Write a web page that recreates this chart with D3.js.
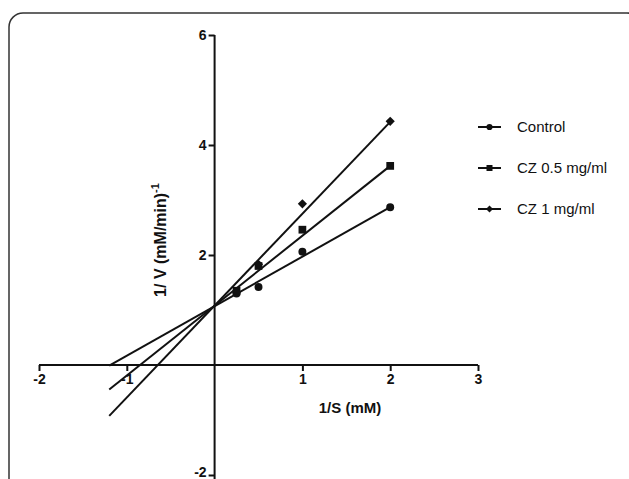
<!DOCTYPE html>
<html>
<head>
<meta charset="utf-8">
<script src="https://cdn.jsdelivr.net/npm/d3@7"></script>
<style>
  body { margin: 0; background: #fff; }
  svg { display: block; font-family: "Liberation Sans", Arial, sans-serif; }
  .tick text { font-weight: bold; font-size: 14px; fill: #111; }
</style>
</head>
<body>
<svg width="629" height="479"></svg>
<script>
// Lineweaver-Burk plot: 1/S vs 1/V for three conditions
const seriesNames = ['Control', 'CZ 0.5 mg/ml', 'CZ 1 mg/ml'];
const invS = [0.25, 0.5, 1, 2];
const controlValues = [1.30, 1.42, 2.06, 2.87];
const cz05Values = [1.35, 1.80, 2.46, 3.62];
const cz1Values = [1.33, 1.83, 2.93, 4.43];
// fitted lines
const fitSlopes = [0.90, 1.27, 1.67];
const fitIntercepts = [1.07, 1.08, 1.08];
const fitRange = [-1.2, 2];
const xTicks = [-2, -1, 1, 2, 3];
const yTicks = [-2, 2, 4, 6];

const svg = d3.select('svg');

// rounded frame round the figure
svg.append('rect')
  .attr('x', 9).attr('y', 13)
  .attr('width', 632).attr('height', 500)
  .attr('rx', 14)
  .attr('fill', 'none')
  .attr('stroke', '#333')
  .attr('stroke-width', 1.5);

const x = d3.scaleLinear().domain([-2, 3]).range([39, 478]);
const y = d3.scaleLinear().domain([-2, 6]).range([475, 35]);

const xAxis = svg.append('g')
  .attr('transform', `translate(0,${y(0)})`)
  .call(d3.axisBottom(x).tickValues(xTicks).tickFormat(d => String(d)).tickSize(6).tickPadding(3));
const yAxis = svg.append('g')
  .attr('transform', `translate(${x(0)},0)`)
  .call(d3.axisLeft(y).tickValues(yTicks).tickFormat(d => String(d)).tickSize(6).tickPadding(2));

[xAxis, yAxis].forEach(g => {
  g.select('.domain').attr('stroke', '#111').attr('stroke-width', 2);
  g.selectAll('.tick line').attr('stroke', '#111').attr('stroke-width', 2);
});
// plain axis lines, no outer ticks
xAxis.select('.domain').attr('d', `M${x(-2)},0H${x(3)}`);
yAxis.select('.domain').attr('d', `M0,${y(-2) + 5}V${y(6)}`);
yAxis.selectAll('.tick text').filter(d => d === -2).attr('dy', '0.1em');

svg.append('text')
  .attr('x', 350).attr('y', 413)
  .attr('text-anchor', 'middle')
  .attr('font-weight', 'bold').attr('font-size', 15)
  .attr('fill', '#111')
  .text('1/S (mM)');

const yLabel = svg.append('text')
  .attr('transform', 'translate(166,240) rotate(-90)')
  .attr('text-anchor', 'middle')
  .attr('font-weight', 'bold').attr('font-size', 16)
  .attr('fill', '#111');
yLabel.append('tspan').text('1/ V (mM/min)');
yLabel.append('tspan').attr('dy', -7).attr('font-size', 11).text('-1');

const allValues = [controlValues, cz05Values, cz1Values];
const symbols = [d3.symbolCircle, d3.symbolSquare, d3.symbolSquare];
const symbolSizes = [50, 60, 42];
const symbolRotate = [0, 0, 45];

// fit lines
const line = d3.line().x(d => x(d[0])).y(d => y(d[1]));
seriesNames.forEach((name, i) => {
  const pts = fitRange.map(v => [v, fitIntercepts[i] + fitSlopes[i] * v]);
  svg.append('path')
    .attr('d', line(pts))
    .attr('fill', 'none')
    .attr('stroke', '#111')
    .attr('stroke-width', 2);
});

// data points
seriesNames.forEach((name, i) => {
  svg.append('g').selectAll('path')
    .data(invS.map((v, j) => [v, allValues[i][j]]))
    .join('path')
    .attr('transform', d => `translate(${x(d[0])},${y(d[1])}) rotate(${symbolRotate[i]})`)
    .attr('d', d3.symbol(symbols[i], symbolSizes[i]))
    .attr('fill', '#111');
});

// legend
const legend = svg.append('g').attr('transform', 'translate(478,127)');
seriesNames.forEach((name, i) => {
  const row = legend.append('g').attr('transform', `translate(0,${i * 41})`);
  row.append('line')
    .attr('x1', 0).attr('x2', 23)
    .attr('stroke', '#111').attr('stroke-width', 2);
  row.append('path')
    .attr('transform', `translate(11.5,0) rotate(${symbolRotate[i]})`)
    .attr('d', d3.symbol(symbols[i], symbolSizes[i] * 0.6))
    .attr('fill', '#111');
  row.append('text')
    .attr('x', 39).attr('y', 5)
    .attr('font-size', 15)
    .attr('fill', '#111')
    .text(name);
});
</script>
</body>
</html>
